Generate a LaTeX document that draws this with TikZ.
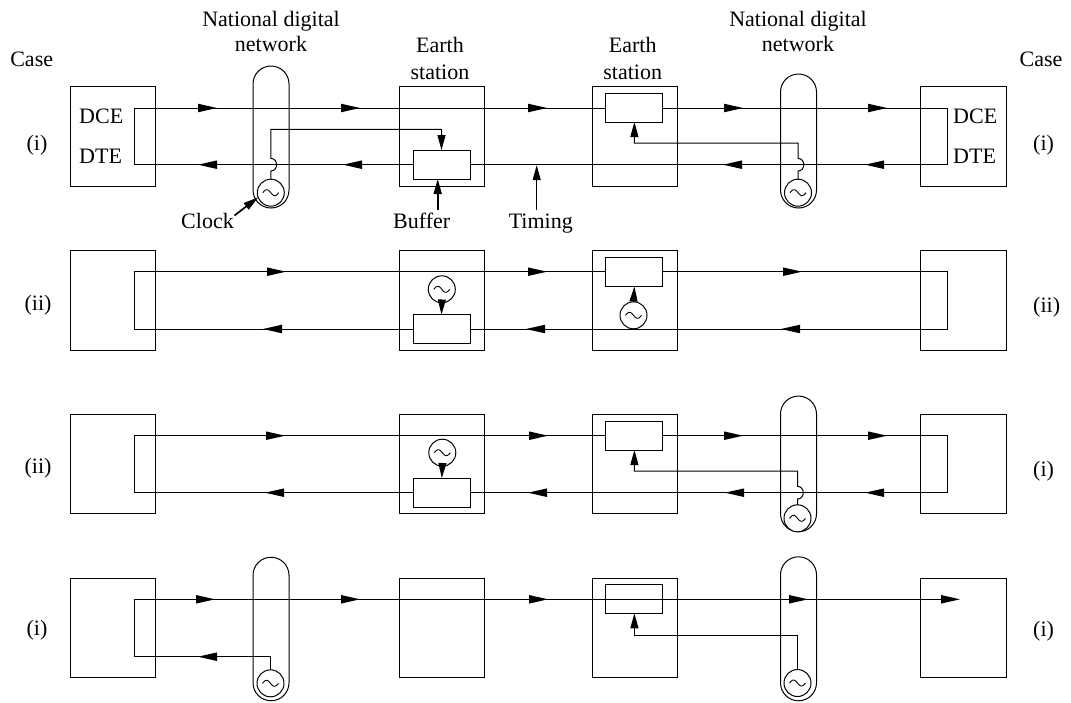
\documentclass[tikz,border=0pt]{standalone}
\usepackage{fontspec}
\setmainfont{Liberation Serif}
\usetikzlibrary{arrows.meta}
\newcommand\headR[2]{\fill (#1,#2) -- ++(-19,-4.3) -- ++(0,8.6) -- cycle;}
\newcommand\headL[2]{\fill (#1,#2) -- ++(19,-4.3) -- ++(0,8.6) -- cycle;}
\tikzset{
  wire/.style={line width=1pt},
  box/.style={draw,line width=1pt,minimum width=85.5pt,minimum height=99.5pt,inner sep=0pt,outer sep=0pt},
  buf/.style={draw,fill=white,line width=1pt,minimum width=57pt,minimum height=29pt,inner sep=0pt,outer sep=0pt},
  clk/.style={draw,fill=white,circle,line width=1pt,minimum size=27pt,inner sep=0pt,outer sep=0pt},
  capsule/.style={draw,line width=1pt,rounded corners=18pt,minimum width=36pt,inner sep=0pt,outer sep=0pt},
  lbl/.style={font=\fontsize{22}{26}\selectfont,inner sep=0pt},
  sarr/.style={line width=1pt,-{Triangle[length=15pt,width=8pt]}},
  larr/.style={line width=1.7pt,-{Triangle[length=15pt,width=8pt]}},
  tld/.pic={\draw[line width=0.9pt] plot[domain=-8:8,samples=30,smooth] (\x,{3*sin(\x*22.5)});}
}
\begin{document}
\begin{tikzpicture}[x=1pt,y=-1pt]
\useasboundingbox (0,0) rectangle (1071,702);
% capsules (national digital networks)
\node[capsule,minimum height=142pt] (N1) at (271,137) {};
\node[capsule,minimum height=143.5pt] (N4) at (271,629) {};
\node[capsule,minimum height=134pt] (M1) at (798.5,141) {};
\node[capsule,minimum height=135.7pt] (M3) at (798.5,463.9) {};
\node[capsule,minimum height=144pt] (M4) at (798.5,628.8) {};
% boxes
\foreach \r/\y in {1/136.45,2/300.45,3/464.05,4/628.05}{
  \node[box,minimum width=85.7pt] (L\r) at (112.85,\y) {};
  \node[box] (A\r) at (441.75,\y) {};
  \node[box,minimum width=85pt] (B\r) at (634.5,\y) {};
  \node[box,minimum width=86pt] (R\r) at (963,\y) {};
}
% loops
\foreach \d/\e in {108/164.7,271.7/329,435.7/492.7}
  \draw[wire] (134.5,\d) rectangle (947,\e);
% buffers
\node[buf] (bA1) at (441.5,164.5) {};
\node[buf] (bB1) at (634.4,107.5) {};
\node[buf] (bA2) at (441.5,329) {};
\node[buf] (bB2) at (634.4,272) {};
\node[buf] (bA3) at (441.8,492.5) {};
\node[buf] (bB3) at (634.4,435.5) {};
\node[buf] (bB4) at (634.4,598.8) {};
% row 4 main line (passes through the buffer)
\draw[wire] (270.5,669.8) |- (134.3,656.7) |- (955,599.3);
% clocks
\foreach \n/\p in {cN1/{(270.8,192.7)},cN4/{(270.5,683.3)},cM1/{(798,192.7)},cM3/{(797.5,518.3)},cM4/{(797.5,683)},cA2/{(441.8,289.3)},cB2/{(633.5,315.3)},cA3/{(442.3,452.7)}}{
  \node[clk] (\n) at \p {};
  \pic at (\n) {tld};
}
% row 1 clock wires
\draw[sarr] (cN1.north) -- (270.8,171) .. controls (278.5,171) and (278.5,158.4) .. (270.8,158.4) -- (270.8,129.3) -| (bA1.north);
\draw[sarr] (cM1.north) -- (798,171) .. controls (805.7,171) and (805.7,158.4) .. (798,158.4) -- (798,143) -| (bB1.south);
% row 2
\draw[sarr] (cA2.south) -- (bA2.north);
\draw[sarr] (cB2.north) -- (bB2.south);
% row 3
\draw[sarr] (cA3.south) -- (bA3.north);
\draw[sarr] (cM3.north) -- (797.5,499) .. controls (805.2,499) and (805.2,486.4) .. (797.5,486.4) -- (797.5,471) -| (bB3.south);
% row 4
\draw[sarr] (cM4.north) -- (797.5,635.3) -| (bB4.south);
% arrowheads
\foreach \x in {217,360,547,743,887} {\headR{\x}{108}}
\foreach \x in {198,343,723,865} {\headL{\x}{164.7}}
\foreach \x in {286,547,802} {\headR{\x}{271.7}}
\foreach \x in {263,526,781} {\headL{\x}{329}}
\foreach \x in {285,548,743,887} {\headR{\x}{435.7}}
\foreach \x in {265,528,725,865} {\headL{\x}{492.7}}
\foreach \x in {215,360,548,808,960} {\headR{\x}{599.3}}
\headL{198}{656.7}
% texts
\node[lbl,anchor=base] (caseL) at (31.7,66.7) {Case};
\node[lbl,anchor=base] (caseR) at (1041,66.7) {Case};
\node[lbl,anchor=base] (ndL1) at (271,26.7) {National digital};
\node[lbl,anchor=base] (ndL2) at (271,51.7) {network};
\node[lbl,anchor=base] (ndR1) at (798,26.7) {National digital};
\node[lbl,anchor=base] (ndR2) at (798,51.7) {network};
\node[lbl,anchor=base] (es11) at (440,52.7) {Earth};
\node[lbl,anchor=base] (es12) at (440,79) {station};
\node[lbl,anchor=base] (es21) at (632.7,52.7) {Earth};
\node[lbl,anchor=base] (es22) at (632.7,79) {station};
\node[lbl,anchor=base west] (dceL) at (79,123.3) {DCE};
\node[lbl,anchor=base west] (dteL) at (79,163.3) {DTE};
\node[lbl,anchor=base west] (dceR) at (953,123.3) {DCE};
\node[lbl,anchor=base west] (dteR) at (953,163.3) {DTE};
\node[lbl] (cl1) at (37,145.5) {(i)};
\node[lbl] (cl2) at (38,305) {(ii)};
\node[lbl] (cl3) at (38,468.7) {(ii)};
\node[lbl] (cl4) at (37,630) {(i)};
\node[lbl,anchor=west] (cr1) at (1033,145.5) {(i)};
\node[lbl,anchor=west] (cr2) at (1033,307) {(ii)};
\node[lbl,anchor=west] (cr3) at (1033,471) {(i)};
\node[lbl,anchor=west] (cr4) at (1033,631) {(i)};
\node[lbl,anchor=base] (tClock) at (207.5,228) {Clock};
\node[lbl,anchor=base] (tBuffer) at (421.7,228) {Buffer};
\node[lbl,anchor=base] (tTiming) at (540.8,228) {Timing};
% label arrows
\coordinate (kc) at (234.5,215.5);
\draw[larr] (kc) -- (cN1.200);
\coordinate (kb) at (437.7,210);
\draw[larr] (kb) -- (437.7,179);
\coordinate (kt) at (536.7,210);
\draw[sarr] (kt) -- (536.7,165.2);
\end{tikzpicture}
\end{document}
